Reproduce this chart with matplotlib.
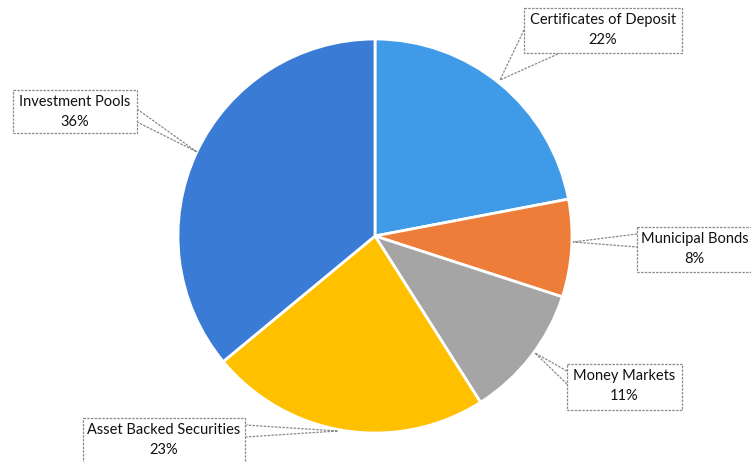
"""Portfolio allocation pie with callout labels."""

import matplotlib.pyplot as plt
from matplotlib.patches import Polygon

categories = ["Certificates of Deposit", "Municipal Bonds", "Money Markets",
              "Asset Backed Securities", "Investment Pools"]
shares = [22, 8, 11, 23, 36]
colors = ["#3f9be8", "#ee7d3a", "#a5a5a5", "#ffc000", "#3a7bd5"]

H = 462
# callout boxes in pixel coords: (x0, y0, x1, y1), wedge base points, anchor
boxes = [
    ((524, 8, 682, 53), [(524, 30), (560, 53)], (500, 80)),
    ((637, 227, 760, 272), [(637, 234), (637, 247)], (573, 242)),
    ((567, 364, 682, 410), [(567, 371), (567, 384)], (535, 353)),
    ((83, 418, 245, 470), [(245, 425), (245, 437)], (338, 431)),
    ((13, 90, 137, 133), [(137, 109), (137, 122)], (197, 152)),
]


def main() -> None:
    plt.rcParams["font.family"] = ["Lato", "DejaVu Sans"]
    fig = plt.figure(figsize=(7.51, 4.62), dpi=100)
    ax = fig.add_axes([0, 0, 1, 1])

    ax.pie(shares, colors=colors, startangle=90, counterclock=False,
           center=(375, H - 236), radius=197, frame=True,
           wedgeprops=dict(edgecolor="white", linewidth=2))

    for cat, val, (box, base, anchor) in zip(categories, shares, boxes):
        x0, y0, x1, y1 = box
        rect = Polygon([(x0, H - y0), (x1, H - y0), (x1, H - y1), (x0, H - y1)],
                       closed=True, facecolor="white", edgecolor="#8a8a8a",
                       linewidth=0.9, linestyle=(0, (2, 1)), zorder=5)
        ax.add_patch(rect)
        tri = Polygon([(base[0][0], H - base[0][1]), (anchor[0], H - anchor[1]),
                       (base[1][0], H - base[1][1])],
                      closed=False, facecolor="none", edgecolor="#8a8a8a",
                      linewidth=0.9, linestyle=(0, (2, 1)), zorder=4)
        ax.add_patch(tri)
        cx = (x0 + x1) / 2 if x1 <= 751 else (x0 + 748) / 2 + 2
        cy = y0 + 22
        ax.text(cx, H - cy, f"{cat}\n{val}%", ha="center", va="center",
                fontsize=10.5, color="#111111", linespacing=1.6, zorder=6)

    ax.set_xlim(0, 751)
    ax.set_ylim(0, H)
    ax.set_aspect("equal")
    ax.axis("off")
    fig.savefig("out.png", dpi=100, facecolor="white")


if __name__ == "__main__":
    main()
